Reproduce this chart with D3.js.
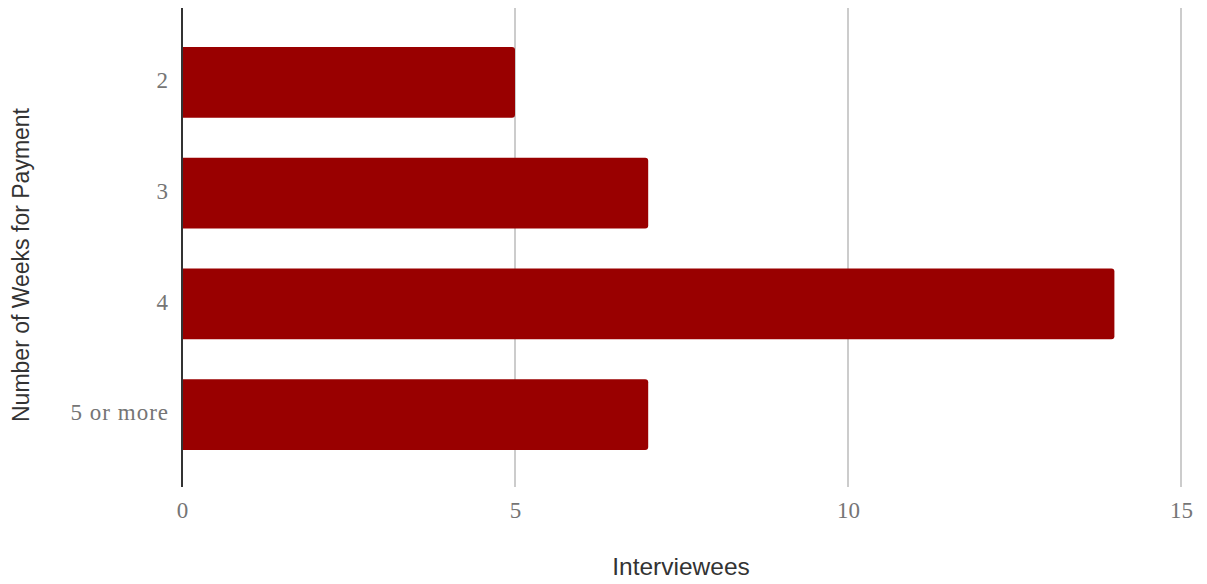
<!DOCTYPE html>
<html>
<head>
<meta charset="utf-8">
<script src="https://cdn.jsdelivr.net/npm/d3@7"></script>
<style>
  html, body { margin: 0; padding: 0; background: #fff; }
  svg { display: block; }
</style>
</head>
<body>
<svg id="chart" width="1207" height="584"></svg>
<script>
// Payment wait reported by interviewees
const categories = ["2", "3", "4", "5 or more"];
const interviewees = [5, 7, 14, 7];
const xTicks = [0, 5, 10, 15];

const W = 1207, H = 584;
const plot = { left: 182, right: 1181, top: 8, bottom: 487 };

const svg = d3.select("#chart");

const x = d3.scaleLinear().domain([0, 15]).range([plot.left, plot.right]);
const y = d3.scaleBand()
  .domain(categories)
  .range([27, 470])
  .paddingInner(0.36)
  .paddingOuter(0.18);

// Vertical gridlines
svg.append("g")
  .selectAll("line")
  .data(xTicks.filter(d => d !== 0))
  .join("line")
  .attr("x1", d => x(d)).attr("x2", d => x(d))
  .attr("y1", plot.top).attr("y2", plot.bottom)
  .attr("stroke", "#cccccc")
  .attr("stroke-width", 2);

// Bars, rounded on the value end only
const r = 3;
svg.append("g")
  .selectAll("path")
  .data(categories.map((c, i) => ({ c, v: interviewees[i] })))
  .join("path")
  .attr("fill", "#990000")
  .attr("d", d => {
    const x0 = x(0), x1 = x(d.v), y0 = y(d.c), h = y.bandwidth();
    return `M${x0},${y0}H${x1 - r}Q${x1},${y0} ${x1},${y0 + r}` +
           `V${y0 + h - r}Q${x1},${y0 + h} ${x1 - r},${y0 + h}H${x0}Z`;
  });

// Baseline axis
svg.append("line")
  .attr("x1", x(0)).attr("x2", x(0))
  .attr("y1", plot.top).attr("y2", plot.bottom)
  .attr("stroke", "#333333")
  .attr("stroke-width", 2);

// X axis tick labels
const xAxis = d3.axisBottom(x).tickValues(xTicks).tickSize(0).tickPadding(0);
const gx = svg.append("g")
  .attr("transform", `translate(0,${plot.bottom + 31})`)
  .call(xAxis);
gx.select(".domain").remove();
gx.selectAll("text")
  .attr("dy", 0)
  .attr("fill", "#757575")
  .style("font-family", "'Liberation Serif', 'Times New Roman', serif")
  .style("font-size", "23px");

// Y axis category labels
const yAxis = d3.axisLeft(y).tickSize(0).tickPadding(0);
const gy = svg.append("g")
  .attr("transform", `translate(${plot.left - 13},0)`)
  .call(yAxis);
gy.select(".domain").remove();
gy.selectAll("text")
  .attr("dy", "0.25em")
  .attr("fill", "#757575")
  .style("font-family", "'Liberation Serif', 'Times New Roman', serif")
  .style("font-size", "23px")
  .style("letter-spacing", "1px");

// Axis titles
svg.append("text")
  .attr("x", 681).attr("y", 575)
  .attr("text-anchor", "middle")
  .attr("fill", "#333333")
  .style("font-family", "'Liberation Sans', Arial, sans-serif")
  .style("font-size", "24.5px")
  .text("Interviewees");

svg.append("text")
  .attr("transform", "translate(29,265) rotate(-90)")
  .attr("text-anchor", "middle")
  .attr("fill", "#333333")
  .style("font-family", "'Liberation Sans', Arial, sans-serif")
  .style("font-size", "23px")
  .text("Number of Weeks for Payment");
</script>
</body>
</html>
